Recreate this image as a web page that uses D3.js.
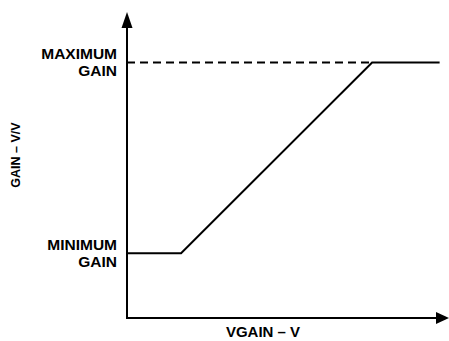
<!DOCTYPE html>
<html>
<head>
  <meta charset="utf-8" />
  <title>Gain vs VGAIN</title>
  <script src="https://d3js.org/d3.v7.min.js"></script>
  <style>
    body {
      margin: 0;
      padding: 0;
      background: #fff;
    }
    svg {
      display: block;
    }
    text {
      font-family: "Liberation Sans", Arial, sans-serif;
      font-weight: bold;
      fill: #000;
    }
  </style>
</head>
<body>
  <svg id="chart"></svg>

  <script>
    // transfer curve, normalised units (axis origin = 0)
    const vgain = [0, 0.173, 0.784, 1.0];
    const gain = [0.212, 0.212, 0.835, 0.835];

    const yTickValues = [0.212, 0.835];
    const yTickLabels = [["MINIMUM", "GAIN"], ["MAXIMUM", "GAIN"]];

    const xTitle = "VGAIN \u2013 V";
    const yTitle = "GAIN \u2013 V/V";

    const width = 449, height = 341;
    const margin = { top: 12, right: 0, bottom: 23, left: 127 };

    const svg = d3.select("#chart")
      .attr("width", width)
      .attr("height", height);

    const x = d3.scaleLinear().domain([0, 1.03]).range([margin.left, width - margin.right]);
    const y = d3.scaleLinear().domain([0, 1]).range([height - margin.bottom, margin.top]);

    const points = vgain.map((v, i) => [v, gain[i]]);

    // dashed reference at maximum gain
    svg.append("line")
      .attr("x1", x(0))
      .attr("x2", x(vgain[2]))
      .attr("y1", y(gain[2]))
      .attr("y2", y(gain[2]))
      .attr("stroke", "#000")
      .attr("stroke-width", 2)
      .attr("stroke-dasharray", "8,5");

    // the gain curve
    svg.append("path")
      .datum(points)
      .attr("fill", "none")
      .attr("stroke", "#000")
      .attr("stroke-width", 2)
      .attr("stroke-linejoin", "miter")
      .attr("d", d3.line().x(d => x(d[0])).y(d => y(d[1])));

    // axes with arrow heads
    const x0 = x(0), y0 = y(0);
    const xEnd = x(1.03), yEnd = y(1);

    svg.append("line")
      .attr("x1", x0).attr("y1", y0)
      .attr("x2", x0).attr("y2", yEnd + 10)
      .attr("stroke", "#000").attr("stroke-width", 2);

    svg.append("line")
      .attr("x1", x0 - 1).attr("y1", y0)
      .attr("x2", xEnd - 8).attr("y2", y0)
      .attr("stroke", "#000").attr("stroke-width", 2);

    svg.append("path")
      .attr("d", `M${x0},${yEnd} L${x0 - 5.5},${yEnd + 16} L${x0 + 5.5},${yEnd + 16} Z`)
      .attr("fill", "#000");

    svg.append("path")
      .attr("d", `M${xEnd},${y0} L${xEnd - 13},${y0 - 6} L${xEnd - 13},${y0 + 6} Z`)
      .attr("fill", "#000");

    // level labels
    const tickG = svg.selectAll(".lvl")
      .data(yTickValues)
      .enter().append("g")
      .attr("class", "lvl");

    tickG.each(function (v, i) {
      const g = d3.select(this);
      yTickLabels[i].forEach((s, k) => {
        g.append("text")
          .attr("x", x0 - 10)
          .attr("y", y(v) - 3 + k * 17)
          .attr("text-anchor", "end")
          .style("font-size", "15.5px")
          .text(s);
      });
    });

    // axis titles
    svg.append("text")
      .attr("x", 263)
      .attr("y", 337)
      .attr("text-anchor", "middle")
      .style("font-size", "15px")
      .text(xTitle);

    svg.append("text")
      .attr("transform", "translate(20,155) rotate(-90)")
      .attr("text-anchor", "middle")
      .style("font-size", "12.5px")
      .text(yTitle);
  </script>
</body>
</html>
